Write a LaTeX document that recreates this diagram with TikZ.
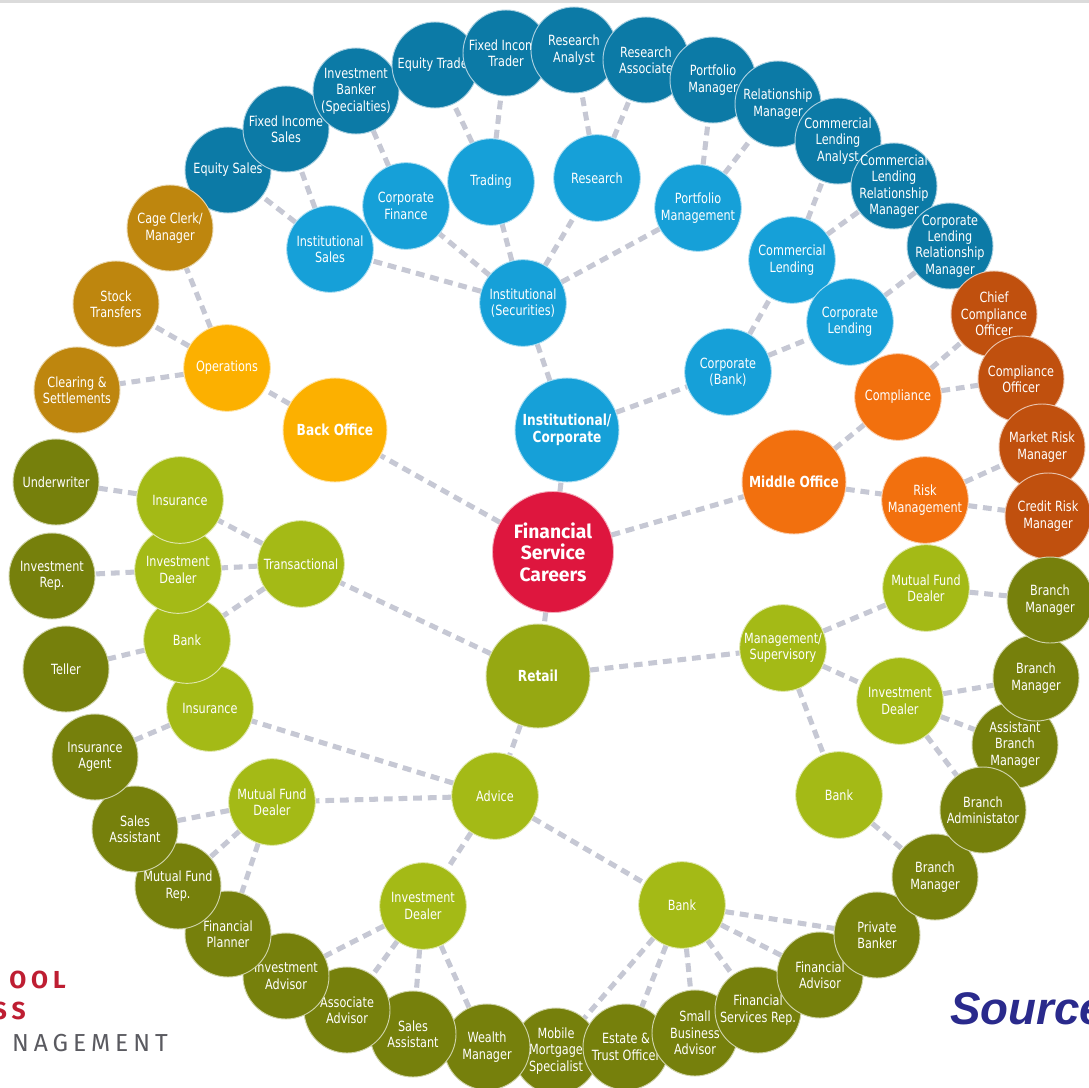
\documentclass[tikz,border=0pt]{standalone}
\usepackage{fontspec}
\setmainfont{Liberation Sans}
\newfontfamily\bubblefont{DejaVu Sans}[FakeStretch=0.8]
\newfontfamily\hubfont{Fira Sans}
\newfontfamily\logofont{Fira Sans}[LetterSpace=20]
\usetikzlibrary{backgrounds}
\definecolor{careerred}{RGB}{222,22,62}
\definecolor{instblue}{RGB}{22,160,216}
\definecolor{roleblue}{RGB}{12,122,166}
\definecolor{backgold}{RGB}{252,176,0}
\definecolor{rolegold}{RGB}{190,134,14}
\definecolor{midorange}{RGB}{242,112,14}
\definecolor{roleorange}{RGB}{192,80,14}
\definecolor{retailolive}{RGB}{164,186,22}
\definecolor{retailmain}{RGB}{150,168,18}
\definecolor{roleolive}{RGB}{118,128,12}
\definecolor{linkgray}{RGB}{198,200,212}
\definecolor{logored}{RGB}{190,30,50}
\definecolor{logogray}{RGB}{90,90,96}
\definecolor{sourceblue}{RGB}{42,42,140}

\begin{document}
\begin{tikzpicture}[
    x=0.03cm, y=-0.03cm,
    bubble/.style={circle, fill=#1, draw=#1!35!white, line width=0.8pt,
      text=white, align=center, inner sep=-10pt, minimum size=2.6cm,
      font=\bubblefont\fontsize{12}{14}\selectfont},
    dept/.style={bubble=#1},
    job/.style={bubble=#1, minimum size=2.58cm},
    sector/.style={bubble=#1, minimum size=3.12cm,
      font=\bubblefont\bfseries\fontsize{13}{14.5}\selectfont},
    hub/.style={bubble=careerred, minimum size=3.63cm,
      font=\hubfont\bfseries\fontsize{16.5}{18.5}\selectfont},
    link/.style={draw=linkgray, line width=4.3pt, dash pattern=on 7.5pt off 5pt},
    logo/.style={inner sep=0pt, anchor=base east,
      font=\logofont\fontsize{21}{21}\selectfont}
  ]
  \useasboundingbox (0,0) rectangle (1089,1087);

  % Centre
  \node[hub] (fsc) at (553,552) {Financial\\Service\\Careers};

  % Main sectors
  \node[sector=instblue] (instcorp) at (567,430) {Institutional/\\Corporate};
  \node[sector=backgold] (backoff) at (335,430) {Back Office};
  \node[sector=midorange] (midoff) at (794,482) {Middle Office};
  \node[sector=retailmain] (retail) at (538,676) {Retail};

  % Institutional / corporate
  \node[dept=instblue] (instsec) at (523,303) {Institutional\\(Securities)};
  \node[dept=instblue] (instsales) at (330,249) {Institutional\\Sales};
  \node[dept=instblue] (corpfin) at (406,206) {Corporate\\Finance};
  \node[dept=instblue] (trading) at (491,182) {Trading};
  \node[dept=instblue] (research) at (597,178) {Research};
  \node[dept=instblue] (portmgmt) at (698,208) {Portfolio\\Management};
  \node[dept=instblue] (corpbank) at (728,372) {Corporate\\(Bank)};
  \node[dept=instblue] (commlend) at (792,260) {Commercial\\Lending};
  \node[dept=instblue] (corplend) at (850,322) {Corporate\\Lending};

  \node[job=roleblue] (eqsales) at (228,170) {Equity Sales};
  \node[job=roleblue] (fisales) at (286,129) {Fixed Income\\Sales};
  \node[job=roleblue] (ibanker) at (356,91) {Investment\\Banker\\(Specialties)};
  \node[job=roleblue] (eqtrader) at (435,65) {Equity Trader};
  \node[job=roleblue] (fitrader) at (506,53) {Fixed Income\\Trader};
  \node[job=roleblue] (ranalyst) at (574,50) {Research\\Analyst};
  \node[job=roleblue] (rassoc) at (646,60) {Research\\Associate};
  \node[job=roleblue] (pmanager) at (713,80) {Portfolio\\Manager};
  \node[job=roleblue] (relmgr) at (778,104) {Relationship\\Manager};
  \node[job=roleblue] (clanalyst) at (838,141) {Commercial\\Lending\\Analyst};
  \node[job=roleblue] (clrelmgr) at (894,186) {Commercial\\Lending\\Relationship\\Manager};
  \node[job=roleblue] (corprelmgr) at (950,246) {Corporate\\Lending\\Relationship\\Manager};

  % Back office
  \node[dept=backgold] (ops) at (227,368) {Operations};
  \node[job=rolegold] (cage) at (170,228) {Cage Clerk/\\Manager};
  \node[job=rolegold] (stock) at (116,304) {Stock\\Transfers};
  \node[job=rolegold] (clearing) at (77,390) {Clearing \&\\Settlements};

  % Middle office
  \node[dept=midorange] (compl) at (898,397) {Compliance};
  \node[dept=midorange] (riskmgmt) at (925,500) {Risk\\Management};
  \node[job=roleorange] (chiefco) at (994,314) {Chief\\Compliance\\Officer};
  \node[job=roleorange] (compoff) at (1021,379) {Compliance\\Officer};
  \node[job=roleorange] (mktrisk) at (1042,447) {Market Risk\\Manager};
  \node[job=roleorange] (creditrisk) at (1048,516) {Credit Risk\\Manager};

  % Retail
  \node[dept=retailolive] (transact) at (301,564) {Transactional};
  \node[dept=retailolive] (insur2) at (210,708) {Insurance};
  \node[dept=retailolive] (bank1) at (187,640) {Bank};
  \node[dept=retailolive] (invdeal1) at (178,570) {Investment\\Dealer};
  \node[dept=retailolive] (insur1) at (180,500) {Insurance};
  \node[dept=retailolive] (advice) at (495,796) {Advice};
  \node[dept=retailolive] (mfdeal1) at (272,802) {Mutual Fund\\Dealer};
  \node[dept=retailolive] (invdeal2) at (423,906) {Investment\\Dealer};
  \node[dept=retailolive] (bank2) at (682,905) {Bank};
  \node[dept=retailolive] (mgmt) at (783,648) {Management/\\Supervisory};
  \node[dept=retailolive] (mfdeal2) at (926,588) {Mutual Fund\\Dealer};
  \node[dept=retailolive] (invdeal3) at (900,701) {Investment\\Dealer};
  \node[dept=retailolive] (bank3) at (839,795) {Bank};

  \node[job=roleolive] (mobile) at (556,1051) {Mobile\\Mortgage\\Specialist};
  \node[job=roleolive] (wealth) at (487,1047) {Wealth\\Manager};
  \node[job=roleolive] (salesasst2) at (413,1034) {Sales\\Assistant};
  \node[job=roleolive] (assocadv) at (347,1010) {Associate\\Advisor};
  \node[job=roleolive] (invadvisor) at (286,976) {Investment\\Advisor};
  \node[job=roleolive] (finplanner) at (228,934) {Financial\\Planner};
  \node[job=roleolive] (mfrep) at (178,886) {Mutual Fund\\Rep.};
  \node[job=roleolive] (salesasst1) at (135,829) {Sales\\Assistant};
  \node[job=roleolive] (insagent) at (95,757) {Insurance\\Agent};
  \node[job=roleolive] (teller) at (66,669) {Teller};
  \node[job=roleolive] (invrep) at (52,576) {Investment\\Rep.};
  \node[job=roleolive] (underwriter) at (56,482) {Underwriter};
  \node[job=roleolive] (estate) at (626,1047) {Estate \&\\Trust Officer};
  \node[job=roleolive] (smallbiz) at (695,1033) {Small\\Business\\Advisor};
  \node[job=roleolive] (finservrep) at (758,1010) {Financial\\Services Rep.};
  \node[job=roleolive] (finadvisor) at (820,975) {Financial\\Advisor};
  \node[job=roleolive] (privbanker) at (877,935) {Private\\Banker};
  \node[job=roleolive] (brmgr3) at (935,877) {Branch\\Manager};
  \node[job=roleolive] (asstbrmgr) at (1015,745) {Assistant\\Branch\\Manager};
  \node[job=roleolive] (bradmin) at (983,810) {Branch\\Administator};
  \node[job=roleolive] (brmgr2) at (1036,678) {Branch\\Manager};
  \node[job=roleolive] (brmgr1) at (1050,600) {Branch\\Manager};

  % Logo and source
  \node[logo, text=logored, font=\logofont\bfseries\fontsize{21}{21}\selectfont] (school) at (66,988) {OOL};
  \node[logo, text=logored, font=\logofont\bfseries\fontsize{21}{21}\selectfont] (business) at (26,1019) {SS};
  \node[logo, text=logogray] (management) at (168,1051) {NAGEMENT};
  \node[inner sep=0pt, anchor=base west, text=sourceblue,
    font=\bfseries\itshape\fontsize{39}{39}\selectfont] (source) at (950,1024) {Source};

  \begin{scope}[on background layer]
    \fill[white] (0,0) rectangle (1089,1087);
    \fill[black!14] (0,0) rectangle (1089,3);

    % Centre links
    \draw[link] (fsc) -- (instcorp);
    \draw[link] (fsc) -- (backoff);
    \draw[link] (fsc) -- (midoff);
    \draw[link] (fsc) -- (retail);

    % Institutional / corporate links
    \draw[link] (instcorp) -- (instsec);
    \draw[link] (instcorp) -- (corpbank);
    \draw[link] (instsec) -- (instsales);
    \draw[link] (instsec) -- (corpfin);
    \draw[link] (instsec) -- (trading);
    \draw[link] (instsec) -- (research);
    \draw[link] (instsec) -- (portmgmt);
    \draw[link] (instsales) -- (eqsales);
    \draw[link] (instsales) -- (fisales);
    \draw[link] (corpfin) -- (ibanker);
    \draw[link] (trading) -- (eqtrader);
    \draw[link] (trading) -- (fitrader);
    \draw[link] (research) -- (ranalyst);
    \draw[link] (research) -- (rassoc);
    \draw[link] (portmgmt) -- (pmanager);
    \draw[link] (portmgmt) -- (relmgr);
    \draw[link] (corpbank) -- (commlend);
    \draw[link] (corpbank) -- (corplend);
    \draw[link] (commlend) -- (clanalyst);
    \draw[link] (commlend) -- (clrelmgr);
    \draw[link] (corplend) -- (corprelmgr);

    % Back office links
    \draw[link] (backoff) -- (ops);
    \draw[link] (ops) -- (cage);
    \draw[link] (ops) -- (stock);
    \draw[link] (ops) -- (clearing);

    % Middle office links
    \draw[link] (midoff) -- (compl);
    \draw[link] (midoff) -- (riskmgmt);
    \draw[link] (compl) -- (chiefco);
    \draw[link] (compl) -- (compoff);
    \draw[link] (riskmgmt) -- (mktrisk);
    \draw[link] (riskmgmt) -- (creditrisk);

    % Retail links
    \draw[link] (retail) -- (transact);
    \draw[link] (retail) -- (mgmt);
    \draw[link] (retail) -- (advice);
    \draw[link] (transact) -- (insur1);
    \draw[link] (transact) -- (invdeal1);
    \draw[link] (transact) -- (bank1);
    \draw[link] (insur1) -- (underwriter);
    \draw[link] (invdeal1) -- (invrep);
    \draw[link] (bank1) -- (teller);
    \draw[link] (advice) -- (insur2);
    \draw[link] (advice) -- (mfdeal1);
    \draw[link] (advice) -- (invdeal2);
    \draw[link] (advice) -- (bank2);
    \draw[link] (insur2) -- (insagent);
    \draw[link] (mfdeal1) -- (salesasst1);
    \draw[link] (mfdeal1) -- (mfrep);
    \draw[link] (mfdeal1) -- (finplanner);
    \draw[link] (invdeal2) -- (invadvisor);
    \draw[link] (invdeal2) -- (assocadv);
    \draw[link] (invdeal2) -- (salesasst2);
    \draw[link] (invdeal2) -- (wealth);
    \draw[link] (bank2) -- (mobile);
    \draw[link] (bank2) -- (estate);
    \draw[link] (bank2) -- (smallbiz);
    \draw[link] (bank2) -- (finservrep);
    \draw[link] (bank2) -- (finadvisor);
    \draw[link] (bank2) -- (privbanker);
    \draw[link] (mgmt) -- (mfdeal2);
    \draw[link] (mgmt) -- (invdeal3);
    \draw[link] (mgmt) -- (bank3);
    \draw[link] (mfdeal2) -- (brmgr1);
    \draw[link] (invdeal3) -- (brmgr2);
    \draw[link] (invdeal3) -- (asstbrmgr);
    \draw[link] (invdeal3) -- (bradmin);
    \draw[link] (bank3) -- (brmgr3);
  \end{scope}
\end{tikzpicture}
\end{document}
